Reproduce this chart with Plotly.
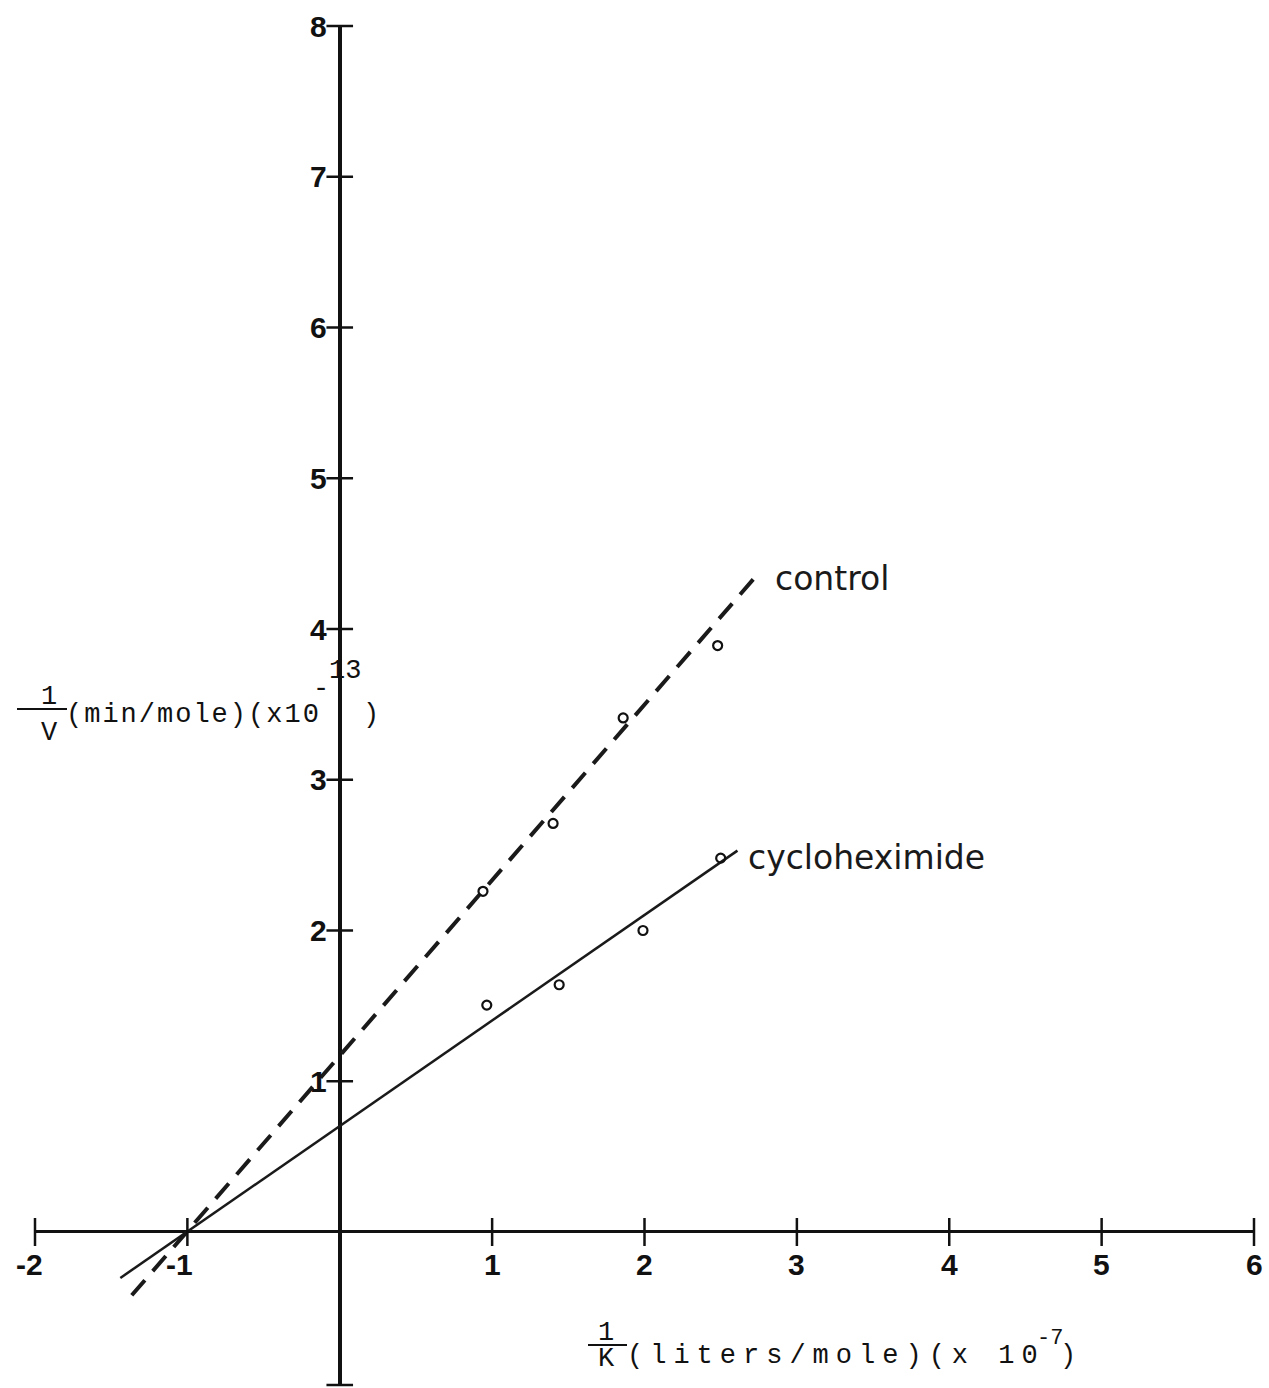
import plotly.graph_objects as go

# ---- data ----
control_x = [0.94, 1.40, 1.86, 2.48]
control_y = [2.26, 2.71, 3.41, 3.89]
cyclo_x = [0.965, 1.44, 1.99, 2.50]
cyclo_y = [1.505, 1.64, 2.00, 2.48]

# fitted lines (end points as drawn)
control_fit_x = [-1.365, 2.74]
control_fit_y = [-0.42, 4.36]
cyclo_fit_x = [-1.44, 2.61]
cyclo_fit_y = [-0.305, 2.53]

x_ticks = [-2, -1, 1, 2, 3, 4, 5, 6]
x_tick_labels = ["-2", "-1", "1", "2", "3", "4", "5", "6"]
y_ticks = [1, 2, 3, 4, 5, 6, 7, 8]
y_tick_labels = ["1", "2", "3", "4", "5", "6", "7", "8"]
x_min, x_max = -2, 6
y_min, y_max = -1.015, 8

W, H = 1269, 1388
L, R, T, B = 35, 15, 26, 3

# pixel helpers for label placement
def dx(px):
    return x_min + (px - L) / (W - L - R) * (x_max - x_min)

def dy(py):
    return y_max - (py - T) / (H - T - B) * (y_max - y_min)

def paper_x(px):
    return (px - L) / (W - L - R)

def paper_y(py):
    return (H - B - py) / (H - T - B)

fig = go.Figure()

# fitted lines
fig.add_trace(go.Scatter(x=control_fit_x, y=control_fit_y, mode="lines",
                         line=dict(color="#1a1a1a", width=4, dash="20px,12px"),
                         hoverinfo="skip"))
fig.add_trace(go.Scatter(x=cyclo_fit_x, y=cyclo_fit_y, mode="lines",
                         line=dict(color="#1a1a1a", width=2.5),
                         hoverinfo="skip"))

# data points
marker_style = dict(symbol="circle-open", size=9, color="#111", line=dict(width=2.2, color="#111"))
fig.add_trace(go.Scatter(x=control_x, y=control_y, mode="markers", marker=marker_style, name="control"))
fig.add_trace(go.Scatter(x=cyclo_x, y=cyclo_y, mode="markers", marker=marker_style, name="cycloheximide"))

# tick marks on the crossing axes
fig.add_trace(go.Scatter(x=x_ticks, y=[0] * len(x_ticks), mode="markers", cliponaxis=False,
                         marker=dict(symbol="line-ns", size=20, line=dict(width=2.5, color="#111")),
                         hoverinfo="skip"))
fig.add_trace(go.Scatter(x=[0] * (len(y_ticks) + 1), y=y_ticks + [y_min], mode="markers", cliponaxis=False,
                         marker=dict(symbol="line-ew", size=19, line=dict(width=2.5, color="#111")),
                         hoverinfo="skip"))

ann = []
tick_font = dict(family="Liberation Sans", size=30, color="#111", weight="bold")
for v, t in zip(y_ticks, y_tick_labels):
    ann.append(dict(x=0, y=v, xref="x", yref="y", text=t, showarrow=False,
                    xanchor="right", yanchor="middle", xshift=-11, font=tick_font))
for v, t in zip(x_ticks, x_tick_labels):
    if v < 0:
        ann.append(dict(x=v, y=0, xref="x", yref="y", text=t, showarrow=False,
                        xanchor="right", yanchor="middle", xshift=10 if v == -2 else 8,
                        yshift=-33, font=tick_font))
    else:
        ann.append(dict(x=v, y=0, xref="x", yref="y", text=t, showarrow=False,
                        xanchor="center", yanchor="middle", yshift=-33, font=tick_font))

# series labels
series_font = dict(family="DejaVu Sans", size=33, color="#1a1a1a")
ann.append(dict(x=dx(773), y=dy(578), xref="x", yref="y", text="control", showarrow=False,
                xanchor="left", yanchor="middle", font=series_font))
ann.append(dict(x=dx(746), y=dy(857), xref="x", yref="y", text="cycloheximide", showarrow=False,
                xanchor="left", yanchor="middle", font=series_font))

# axis titles (typewriter style)
mono = dict(family="Liberation Mono", size=27, color="#111")
mono_small = dict(family="Liberation Mono", size=22, color="#111")
YLAB = "(min/mole)(x10"
XLAB = "(liters/mole)(x 10"
Y_LS, X_LS = 2, 7  # letter spacing (px) applied after render
# y title
ann.append(dict(x=dx(49), y=dy(697), xref="x", yref="y", text="1", showarrow=False,
                xanchor="center", yanchor="middle", font=mono))
ann.append(dict(x=dx(49), y=dy(733), xref="x", yref="y", text="V", showarrow=False,
                xanchor="center", yanchor="middle", font=mono))
ann.append(dict(x=dx(64), y=dy(715), xref="x", yref="y", text=YLAB, showarrow=False,
                xanchor="left", yanchor="middle", font=mono, xshift=len(YLAB) * Y_LS / 2))
ann.append(dict(x=dx(321), y=dy(689), xref="x", yref="y", text="-", showarrow=False,
                xanchor="center", yanchor="middle", font=mono))
ann.append(dict(x=dx(327), y=dy(671), xref="x", yref="y", text="13", showarrow=False,
                xanchor="left", yanchor="middle", font=mono))
ann.append(dict(x=dx(371), y=dy(715), xref="x", yref="y", text=")", showarrow=False,
                xanchor="center", yanchor="middle", font=mono))
# x title
ann.append(dict(x=dx(606), y=dy(1333), xref="x", yref="y", text="1", showarrow=False,
                xanchor="center", yanchor="middle", font=mono))
ann.append(dict(x=dx(606), y=dy(1359), xref="x", yref="y", text="K", showarrow=False,
                xanchor="center", yanchor="middle", font=mono))
ann.append(dict(x=dx(625), y=dy(1356), xref="x", yref="y", text=XLAB, showarrow=False,
                xanchor="left", yanchor="middle", font=mono, xshift=len(XLAB) * X_LS / 2))
ann.append(dict(x=dx(1035), y=dy(1338), xref="x", yref="y", text="-7", showarrow=False,
                xanchor="left", yanchor="middle", font=mono_small))
ann.append(dict(x=dx(1068), y=dy(1356), xref="x", yref="y", text=")", showarrow=False,
                xanchor="center", yanchor="middle", font=mono))

shapes = [
    dict(type="line", xref="paper", yref="paper", x0=paper_x(17), x1=paper_x(67),
         y0=paper_y(709), y1=paper_y(709), line=dict(color="#111", width=2)),
    dict(type="line", xref="paper", yref="paper", x0=paper_x(588), x1=paper_x(627),
         y0=paper_y(1345), y1=paper_y(1345), line=dict(color="#111", width=2)),
]

fig.update_layout(
    width=W, height=H,
    margin=dict(l=L, r=R, t=T, b=B),
    paper_bgcolor="white", plot_bgcolor="white",
    showlegend=False,
    annotations=ann,
    shapes=shapes,
    xaxis=dict(range=[x_min, x_max], showgrid=False, showticklabels=False, ticks="",
               zeroline=True, zerolinecolor="#111", zerolinewidth=4, showline=False),
    yaxis=dict(range=[y_min, y_max], showgrid=False, showticklabels=False, ticks="",
               zeroline=True, zerolinecolor="#111", zerolinewidth=3, showline=False),
)

post = """
document.body.style.margin='0';
document.body.style.overflow='hidden';
var sp = {'%s':'%dpx', '%s':'%dpx'};
document.querySelectorAll('.annotation-text').forEach(function(el){
  var t = el.textContent;
  if (sp[t]) { el.style.letterSpacing = sp[t]; }
});
""" % (YLAB, Y_LS, XLAB, X_LS)

fig.write_html("out.html", post_script=post, config={"displayModeBar": False})
